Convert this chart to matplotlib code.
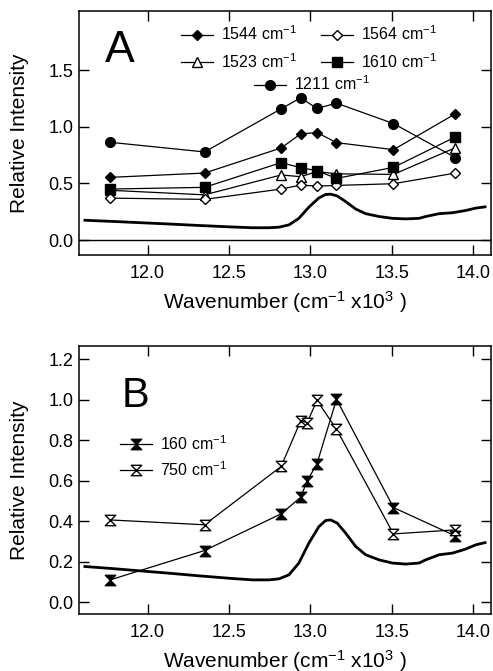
import numpy as np
import matplotlib
matplotlib.use("Agg")
import matplotlib.pyplot as plt
from matplotlib.path import Path

plt.rcParams["font.family"] = ["Liberation Sans", "DejaVu Sans"]
plt.rcParams["mathtext.fontset"] = "custom"
plt.rcParams["mathtext.rm"] = "Liberation Sans"
plt.rcParams["mathtext.it"] = "Liberation Sans:italic"
plt.rcParams["mathtext.bf"] = "Liberation Sans:bold"

# excitation wavenumbers (x 10^3 cm-1)
x_a = [11.77, 12.35, 12.82, 12.94, 13.04, 13.16, 13.51, 13.89]
y_1211 = [0.863, 0.778, 1.158, 1.255, 1.161, 1.208, 1.028, 0.728]
y_1544 = [0.554, 0.592, 0.813, 0.937, 0.949, 0.860, 0.798, 1.114]
y_1610 = [0.451, 0.466, 0.684, 0.639, 0.613, 0.545, 0.642, 0.910]
y_1523 = [0.440, 0.400, 0.575, 0.560, 0.605, 0.585, 0.580, 0.815]
y_1564 = [0.371, 0.360, 0.451, 0.486, 0.477, 0.483, 0.498, 0.592]

x_b = [11.77, 12.35, 12.82, 12.94, 12.98, 13.04, 13.16, 13.51, 13.89]
y_160 = [0.110, 0.255, 0.436, 0.518, 0.599, 0.683, 1.002, 0.467, 0.327]
y_750 = [0.406, 0.382, 0.670, 0.895, 0.887, 0.996, 0.854, 0.337, 0.357]

# absorption spectrum
spec_x = [11.615, 11.78, 11.947, 12.131, 12.315, 12.50, 12.643, 12.745,
          12.807, 12.868, 12.929, 12.99, 13.052, 13.093, 13.124, 13.165,
          13.216, 13.278, 13.339, 13.421, 13.503, 13.585, 13.667, 13.708,
          13.79, 13.871, 13.953, 14.015, 14.072]
spec_y = [0.176, 0.166, 0.155, 0.143, 0.130, 0.118, 0.110, 0.110,
          0.115, 0.135, 0.193, 0.291, 0.373, 0.403, 0.406, 0.390,
          0.341, 0.275, 0.234, 0.209, 0.193, 0.188, 0.193, 0.209,
          0.234, 0.242, 0.262, 0.283, 0.294]

xticks = [12.0, 12.5, 13.0, 13.5, 14.0]

hourglass = Path([(-1, 1), (1, 1), (-1, -1), (1, -1), (-1, 1)],
                 [Path.MOVETO, Path.LINETO, Path.LINETO, Path.LINETO,
                  Path.CLOSEPOLY])


def style_axes(ax, ylim, yticks):
    ax.set_xlim(11.578, 14.109)
    ax.set_ylim(*ylim)
    ax.set_xticks(xticks)
    ax.set_xticklabels([f"{t:.1f}" for t in xticks])
    ax.set_yticks(yticks)
    ax.set_yticklabels([f"{t:.1f}" for t in yticks])
    ax.tick_params(direction="in", top=True, right=True, length=7,
                   width=1, labelsize=13, color="black")
    ax.tick_params(axis="x", pad=7)
    ax.tick_params(axis="y", pad=4)
    for s in ax.spines.values():
        s.set_linewidth(1.1)
    ax.set_xlabel("Wavenumber (cm$^{-1}$ x10$^{3}$ )", fontsize=15, labelpad=5)
    ax.set_ylabel("Relative Intensity", fontsize=15)
    ax.yaxis.set_label_coords(-0.121, 0.5)


fig = plt.figure(figsize=(4.93, 6.71), dpi=100)

# Panel A
ax = fig.add_axes([0.160, 0.620, 0.836, 0.3636])
ax.axhline(0, color="black", lw=1)
ax.plot(spec_x, spec_y, color="black", lw=2)
kw = dict(color="black", lw=0.9, mec="black")
l1544, = ax.plot(x_a, y_1544, marker="D", ms=5.5, mfc="black", label="1544 cm$^{-1}$", **kw)
l1523, = ax.plot(x_a, y_1523, marker="^", ms=7, mfc="white", label="1523 cm$^{-1}$", **kw)
l1564, = ax.plot(x_a, y_1564, marker="D", ms=5.5, mfc="white", label="1564 cm$^{-1}$", **kw)
l1610, = ax.plot(x_a, y_1610, marker="s", ms=6.5, mfc="black", label="1610 cm$^{-1}$", **kw)
l1211, = ax.plot(x_a, y_1211, marker="o", ms=7, mfc="black", label="1211 cm$^{-1}$", **kw)
style_axes(ax, (-0.13, 2.02), [0.0, 0.5, 1.0, 1.5])
ax.text(0.063, 0.791, "A", transform=ax.transAxes, fontsize=32)

leg1 = ax.legend(handles=[l1544, l1523, l1564, l1610], ncol=2, frameon=False,
                 loc="upper left", bbox_to_anchor=(0.248, 0.945),
                 borderpad=0, borderaxespad=0, fontsize=11.5, handlelength=2.0,
                 handletextpad=0.5, columnspacing=1.5, labelspacing=0.55,
                 numpoints=1)
ax.add_artist(leg1)
ax.legend(handles=[l1211], frameon=False, loc="upper left",
          bbox_to_anchor=(0.425, 0.74), borderpad=0, borderaxespad=0,
          fontsize=11.5, handlelength=2.0, handletextpad=0.5, numpoints=1)

# Panel B
bx = fig.add_axes([0.160, 0.0845, 0.836, 0.3999])
bx.plot(spec_x, spec_y, color="black", lw=2)
l160, = bx.plot(x_b, y_160, marker=hourglass, ms=7.5, mfc="black",
                label="160 cm$^{-1}$", **kw)
l750, = bx.plot(x_b, y_750, marker=hourglass, ms=7.5, mfc="white",
                label="750 cm$^{-1}$", **kw)
style_axes(bx, (-0.06, 1.265), [0.0, 0.2, 0.4, 0.6, 0.8, 1.0, 1.2])
bx.text(0.104, 0.774, "B", transform=bx.transAxes, fontsize=30)
bx.legend(handles=[l160, l750], frameon=False, loc="upper left",
          bbox_to_anchor=(0.0995, 0.672), borderpad=0, borderaxespad=0,
          fontsize=11.5, handlelength=2.0, handletextpad=0.5,
          labelspacing=0.45, numpoints=1)

fig.savefig("out.png", dpi=100)
